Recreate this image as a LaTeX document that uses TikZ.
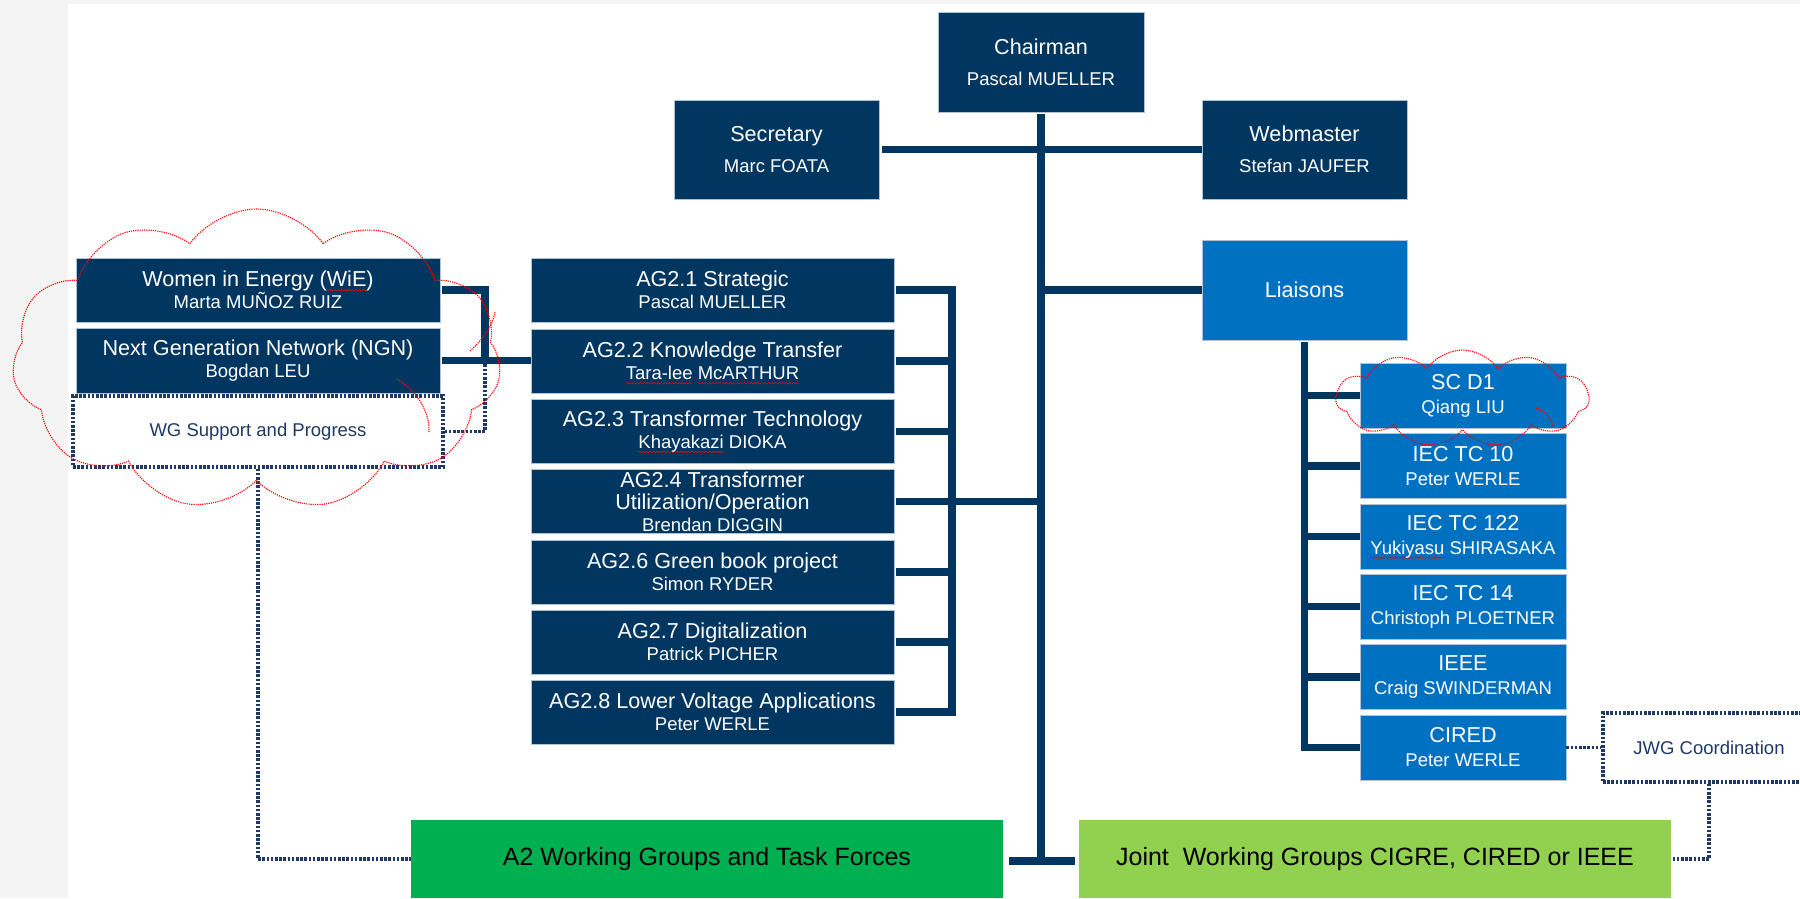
\documentclass[tikz,border=0pt]{standalone}
\usepackage{fontspec}
\setmainfont{Liberation Sans}
\usetikzlibrary{shapes.symbols,decorations.pathmorphing}
\definecolor{navy}{RGB}{0,54,96}
\definecolor{lblue}{RGB}{0,112,192}
\definecolor{dgreen}{RGB}{0,176,80}
\definecolor{lgreen}{RGB}{146,208,80}
\definecolor{dotblue}{RGB}{31,56,100}
\definecolor{bordc}{RGB}{175,195,215}
\definecolor{bggray}{RGB}{244,244,244}
\newsavebox\spellbox
\newcommand\spellerr[1]{\sbox\spellbox{#1}\rlap{\tikz[overlay, baseline=0pt]\draw[red, line width=0.6pt, decorate, decoration={snake, amplitude=0.8pt, segment length=3.5pt}] (0pt,-3.5pt) -- (\the\wd\spellbox,-3.5pt);}#1}
\newcommand\namefont{\fontsize{18.5}{22}\selectfont}
\newcommand\titlefont{\fontsize{21.6}{22}\selectfont}
\tikzset{
  box/.style={rectangle, fill=navy, draw=bordc, line width=0.8pt, text=white, align=center, inner sep=0pt, font=\namefont},
  agbox/.style={box, minimum width=363pt, minimum height=64pt},
  lbox/.style={box, fill=lblue, minimum width=206pt, minimum height=65pt},
  topbox/.style={box, minimum width=205pt, minimum height=99pt},
  dotbox/.style={rectangle, draw=dotblue, line width=3.2pt, dash pattern=on 2.6pt off 1.6pt, text=dotblue, align=center, inner sep=0pt, font=\namefont},
  greenbox/.style={rectangle, inner sep=0pt, text=black, font=\fontsize{25}{28}\selectfont, minimum width=592pt, minimum height=78pt},
  conn/.style={draw=navy, line width=7.5pt, line join=miter},
  dotl/.style={draw=dotblue, line width=3.2pt, dash pattern=on 2.6pt off 1.6pt},
  redline/.style={draw=red, line width=1.1pt, dash pattern=on 1.2pt off 1pt},
  cloudst/.style={cloud, cloud puffs=11, cloud puff arc=110, cloud ignores aspect, redline, inner sep=0pt}
}
\begin{document}
\begin{tikzpicture}[x=1pt, y=-1pt]
\useasboundingbox (0,0) rectangle (1800,898);
\fill[bggray] (0,0) rectangle (1800,898);
\fill[white] (68,4) rectangle (1800,898);

% top level
\node[topbox, minimum width=206pt, minimum height=100pt] (chair) at (1041,62) {{\titlefont Chairman}\\[9pt]Pascal MUELLER};
\node[topbox] (sec) at (776.5,149.5) {{\titlefont Secretary}\\[9pt]Marc FOATA};
\node[topbox] (web) at (1304.5,149.5) {{\titlefont Webmaster}\\[9pt]Stefan JAUFER};
\node[topbox, fill=lblue, minimum height=100pt, font=\titlefont] (liai) at (1304.5,290) {Liaisons};

% left groups
\node[box, minimum width=364pt, minimum height=64pt] (wie) at (258,290) {{\titlefont Women in Energy (\spellerr{WiE})}\\Marta MUÑOZ RUIZ};
\node[box, minimum width=364pt, minimum height=65pt] (ngn) at (258,360.5) {{\titlefont Next Generation Network (NGN)}\\Bogdan LEU};
\node[dotbox, minimum width=370pt, minimum height=71pt] (wg) at (258,431.5) {WG Support and Progress};

% AG column
\node[agbox] (ag1) at (712.5,290) {{\titlefont AG2.1 Strategic}\\Pascal MUELLER};
\node[agbox] (ag2) at (712.5,361) {{\titlefont AG2.2 Knowledge Transfer}\\\spellerr{Tara-lee} \spellerr{McARTHUR}};
\node[agbox] (ag3) at (712.5,431.5) {{\titlefont AG2.3 Transformer Technology}\\\spellerr{Khayakazi} DIOKA};
\node[agbox] (ag4) at (712.5,501.5) {{\titlefont AG2.4 Transformer}\\{\titlefont Utilization/Operation}\\Brendan DIGGIN};
\node[agbox] (ag6) at (712.5,572) {{\titlefont AG2.6 Green book project}\\Simon RYDER};
\node[agbox] (ag7) at (712.5,642) {{\titlefont AG2.7 Digitalization}\\Patrick PICHER};
\node[agbox] (ag8) at (712.5,712) {{\titlefont AG2.8 Lower Voltage Applications}\\Peter WERLE};

% liaison column
\node[lbox] (scd1) at (1463,395.5) {{\titlefont SC D1}\\[2pt]Qiang LIU};
\node[lbox] (tc10) at (1463,466) {{\titlefont IEC TC 10}\\[2pt]Peter WERLE};
\node[lbox] (tc122) at (1463,536.5) {{\titlefont IEC TC 122}\\[2pt]\spellerr{Yukiyasu} SHIRASAKA};
\node[lbox] (tc14) at (1463,606.5) {{\titlefont IEC TC 14}\\[2pt]Christoph PLOETNER};
\node[lbox] (ieee) at (1463,677) {{\titlefont IEEE}\\[2pt]Craig SWINDERMAN};
\node[lbox] (cired) at (1463,747.5) {{\titlefont CIRED}\\[2pt]Peter WERLE};

\node[dotbox, minimum width=212pt, minimum height=69pt] (jwg) at (1709,747.5) {JWG Coordination};

% bottom boxes
\node[greenbox, fill=dgreen] (a2) at (707,859) {A2 Working Groups and Task Forces};
\node[greenbox, fill=lgreen] (joint) at (1375,859) {Joint\ \ Working Groups CIGRE, CIRED or IEEE};

% helper coordinates
\coordinate (busx) at (952,0);
\coordinate (wiej) at (485,360.5);
\coordinate (tb) at (1041,861);

% solid connectors
\draw[conn, shorten <=2pt] (chair.south) -- (tb);
\draw[conn, shorten <=3pt] (sec.east) -- (web.west);
\draw[conn] (chair.south |- liai.west) -- (liai.west);
\draw[conn, shorten <=6pt, shorten >=4pt] (a2.east |- tb) -- (joint.west |- tb);

\draw[conn, shorten <=2pt, shorten >=2pt] (ag1.east) -| (busx |- ag8.east) -- (ag8.east);
\foreach \n in {ag2,ag3,ag4,ag6,ag7}{
  \draw[conn, shorten <=2pt] (\n.east) -- (busx |- \n.east);
}
\draw[conn] (busx |- ag4.east) -- (chair.south |- ag4.east);

\draw[conn, shorten <=2pt] (wie.east) -| (wiej);
\draw[conn, shorten <=2pt] (ngn.east) -- (ngn.east -| ag2.west);

\draw[conn, shorten <=2pt] (liai.south) |- (cired.west);
\foreach \n in {scd1,tc10,tc122,tc14,ieee}{
  \draw[conn] (liai.south |- \n.west) -- (\n.west);
}

% dotted connectors
\draw[dotl] (wg.east) -| (wiej);
\draw[dotl] (wg.south) |- (a2.west);
\draw[dotl] (cired.east) -- (jwg.west);
\draw[dotl] (jwg.south) |- (joint.east);

% red clouds
\node[cloudst, minimum width=489pt, minimum height=301pt] (cl1) at (256.5,359.5) {};
\node[cloudst, minimum width=253pt, minimum height=97pt] (cl2) at (1462.5,398.5) {};
% interior arcs of the clouds
\draw[redline] (397,379) .. controls (418,392) and (430,412) .. (429,433);
\draw[redline] (470,351) .. controls (482,340) and (492,328) .. (495,312);
\draw[redline] (1536,408) .. controls (1546,412) and (1552,419) .. (1553,427);
\end{tikzpicture}
\end{document}
